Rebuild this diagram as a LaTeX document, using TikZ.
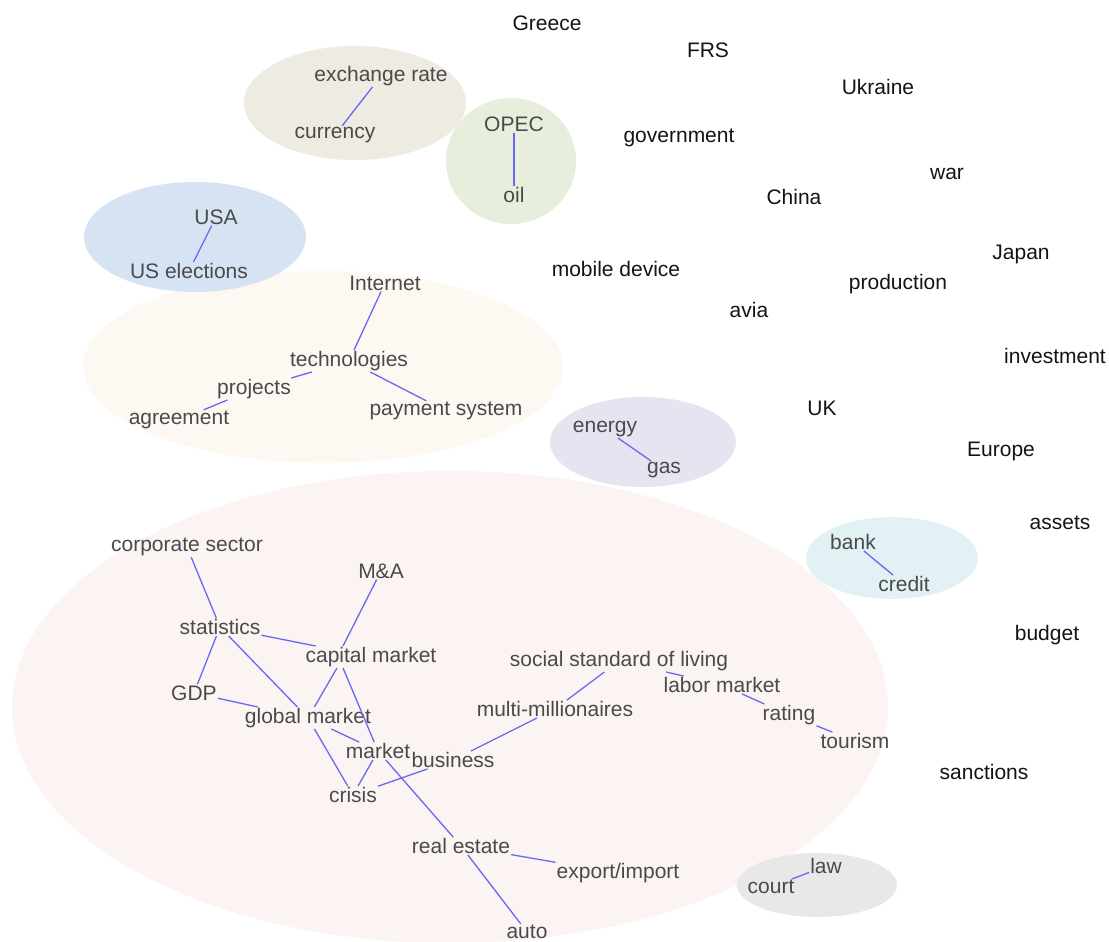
\documentclass[tikz,border=0pt]{standalone}
\usepackage{fontspec}
\setmainfont{Liberation Sans}
\usepackage{xcolor}
\usepackage{tikz}
\usetikzlibrary{positioning}

\definecolor{linkblue}{HTML}{6868F2}
\definecolor{wordgray}{HTML}{4A4A4A}
\definecolor{wordblack}{HTML}{141414}
\definecolor{fxrate}{HTML}{EEEBE3}
\definecolor{fopec}{HTML}{E8EEDC}
\definecolor{fusa}{HTML}{D6E3F3}
\definecolor{ftech}{HTML}{FEF8F2}
\definecolor{fenergy}{HTML}{E6E4F0}
\definecolor{fecon}{HTML}{FBF4F3}
\definecolor{fbank}{HTML}{E2F1F4}
\definecolor{flaw}{HTML}{E8E8E8}

\begin{document}
\begin{tikzpicture}[
  x=1pt,
  y=-1pt,
  word/.style={text=wordgray, inner sep=1pt, font=\fontsize{21}{25}\selectfont},
  freeword/.style={text=wordblack, inner sep=1pt, font=\fontsize{21}{25}\selectfont},
  link/.style={draw=linkblue, line width=1.3pt},
  cloud/.style={draw=none}
]
  \useasboundingbox[fill=white] (0,0) rectangle (1109,942);

  % clusters
  \fill[cloud, fill=ftech] (323,367) ellipse [x radius=240pt, y radius=96pt];
  \fill[cloud, fill=fusa] (195,237) ellipse [x radius=111pt, y radius=55pt];
  \fill[cloud, fill=fxrate] (355,103) ellipse [x radius=111pt, y radius=57pt];
  \fill[cloud, fill=fopec] (511,161) ellipse [x radius=65pt, y radius=63pt];
  \fill[cloud, fill=fenergy] (643,442) ellipse [x radius=93pt, y radius=45pt];
  \fill[cloud, fill=fecon] (450,707) ellipse [x radius=438pt, y radius=236pt];
  \fill[cloud, fill=fbank] (892,558) ellipse [x radius=86pt, y radius=41pt];
  \fill[cloud, fill=flaw] (817,885) ellipse [x radius=80pt, y radius=32pt];

  % words outside any cluster
  \foreach \name/\x/\y/\text in {greece/547/23/Greece, frs/708/50/FRS,
      ukraine/878/87/Ukraine, government/679/138/government, war/947/174/war,
      china/794/197/China, japan/1021/254/Japan, mobile/616/269/mobile device,
      production/898/284/production, avia/749/310/avia,
      investment/1055/356/investment, uk/822/408/UK, europe/1001/451/Europe,
      assets/1060/523/assets, budget/1047/635/budget, sanctions/984/772/sanctions} {
    \node[freeword] (\name) at (\x,\y) {\text};
  }

  % words inside the clusters
  \node[word] (xrate) at (381,76) {exchange rate};
  \node[word] (currency) at (335,135) {currency};
  \node[word] (opec) at (514,124) {OPEC};
  \node[word] (oil) at (514,195) {oil};
  \node[word] (usa) at (216,217) {USA};
  \node[word] (uselect) at (189,271) {US elections};
  \node[word] (internet) at (385,283) {Internet};
  \node[word] (tech) at (349,361) {technologies};
  \node[word] (projects) at (254,389) {projects};
  \node[word] (agreement) at (179,420) {agreement};
  \node[word] (payment) at (446,411) {payment system};
  \node[word] (energy) at (605,429) {energy};
  \node[word] (gas) at (664,470) {gas};
  \node[word] (bank) at (853,542) {bank};
  \node[word] (credit) at (904,584) {credit};
  \node[word] (corp) at (187,547) {corporate sector};
  \node[word] (ma) at (381,571) {M\&A};
  \node[word] (stats) at (220,627) {statistics};
  \node[word] (capmarket) at (371,657) {capital market};
  \node[word] (gdp) at (194,693) {GDP};
  \node[word] (globmarket) at (308,718) {global market};
  \node[word] (market) at (378,751) {market};
  \node[word] (business) at (453,760) {business};
  \node[word] (crisis) at (353,795) {crisis};
  \node[word] (social) at (619,661) {social standard of living};
  \node[word] (millionaires) at (555,709) {multi-millionaires};
  \node[word] (labor) at (722,685) {labor market};
  \node[word] (rating) at (789,715) {rating};
  \node[word] (tourism) at (855,741) {tourism};
  \node[word] (realestate) at (461,846) {real estate};
  \node[word] (export) at (618,873) {export/import};
  \node[word] (auto) at (527,932) {auto};
  \node[word] (law) at (826,866) {law};
  \node[word] (court) at (771,887) {court};

  % links
  \foreach \a/\b in {xrate/currency, opec/oil, usa/uselect, internet/tech,
      tech/projects, projects/agreement, tech/payment, energy/gas, bank/credit,
      corp/stats, stats/capmarket, stats/gdp, stats/globmarket,
      gdp/globmarket, globmarket/market,
      globmarket/crisis, market/crisis, crisis/business, business/millionaires,
      millionaires/social, social/labor, labor/rating, rating/tourism,
      market/realestate, realestate/export, realestate/auto, law/court} {
    \draw[link] (\a) -- (\b);
  }
  % capital market is linked from its left part
  \draw[link] (ma) -- ([xshift=-28pt]capmarket.north);
  \draw[link] ([xshift=-28pt]capmarket.south) -- (market);
  \draw[link] ([xshift=-34pt]capmarket.south) -- (globmarket);
\end{tikzpicture}
\end{document}
